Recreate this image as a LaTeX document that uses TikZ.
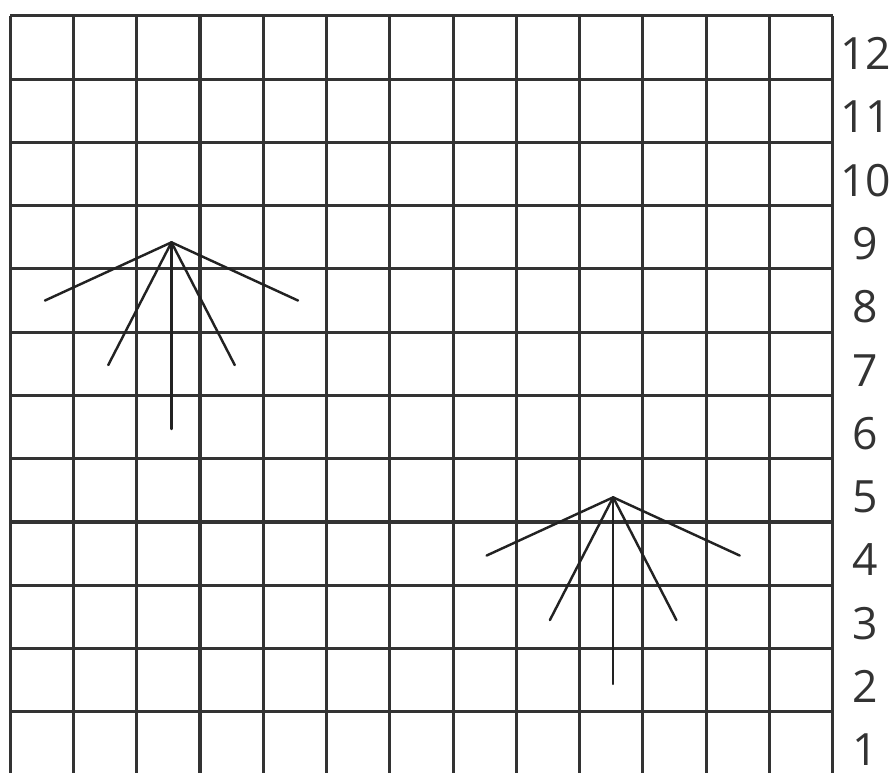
\documentclass[tikz,border=0pt]{standalone}
\usepackage{fontspec}
\setmainfont{Open Sans}
\usetikzlibrary{calc}
\definecolor{gridink}{HTML}{333333}
\definecolor{fanink}{HTML}{222222}

\begin{document}
\begin{tikzpicture}[font=\fontsize{20}{24}\selectfont]
    \clip (-0.16,0.04) rectangle (14.0,12.25);
    \draw[gridink, line width=1.4pt] (0,0) grid (13,12);
    \foreach \r in {1,...,12}
      \node[text=gridink, inner sep=0pt] (row\r) at (13.52,\r-0.6) {\r};
    % two fans
    \foreach \tx/\ty/\nm in {2.55/8.42/A, 9.53/4.39/B} {
      \coordinate (tip\nm) at (\tx,\ty);
      \foreach \dx/\dy [count=\k] in {-2/-0.92, -1/-1.94, 0/-2.95, 1/-1.94, 2/-0.92} {
        \coordinate (end\nm\k) at ($(tip\nm)+(\dx,\dy)$);
        \draw[fanink, line width=1.1pt, line cap=round] (tip\nm) -- (end\nm\k);
      }
    }
\end{tikzpicture}
\end{document}
